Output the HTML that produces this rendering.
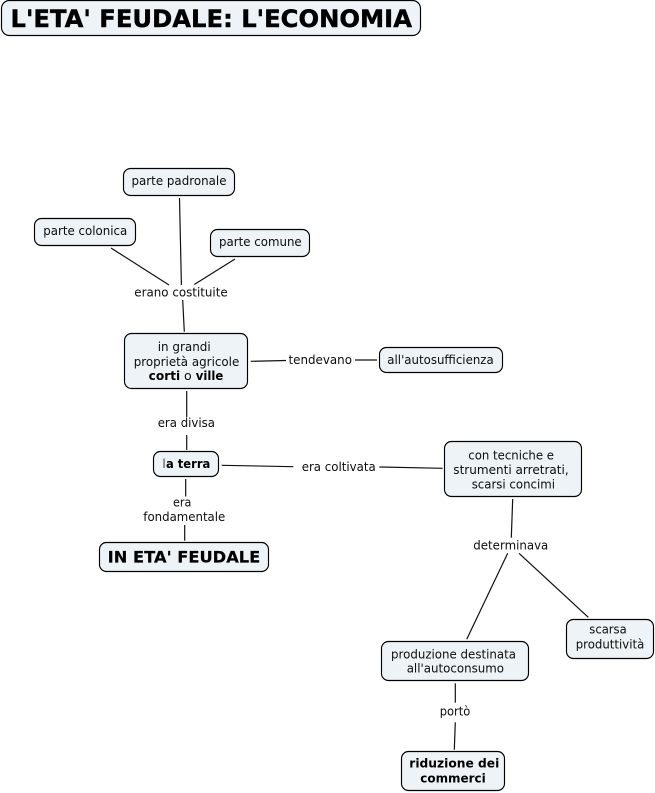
<!DOCTYPE html>
<html><head><meta charset="utf-8"><style>
html,body{margin:0;padding:0;background:#fff;width:655px;height:793px;overflow:hidden}
svg{display:block}
rect{fill:#edf3f6;stroke:#000;stroke-width:1.15}
line{stroke:#111;stroke-width:1.2}
text{font-family:"DejaVu Sans","Liberation Sans",sans-serif;font-size:12px;fill:#0d0d0d}
.b{font-weight:bold;fill:#000}
</style></head><body>
<svg width="655" height="793" viewBox="0 0 655 793" xmlns="http://www.w3.org/2000/svg">
<line x1="179.5" y1="198" x2="181.4" y2="285"/>
<line x1="111" y1="248" x2="169" y2="285"/>
<line x1="235" y1="259" x2="194.3" y2="284.5"/>
<line x1="182.7" y1="300" x2="184.3" y2="331.7"/>
<line x1="250.7" y1="361.3" x2="286" y2="360.5"/>
<line x1="355" y1="360" x2="377" y2="360"/>
<line x1="186.7" y1="391" x2="186.7" y2="417"/>
<line x1="186.7" y1="435" x2="186.7" y2="450"/>
<line x1="185.7" y1="479" x2="185.7" y2="496.5"/>
<line x1="184.7" y1="525" x2="184.7" y2="540.7"/>
<line x1="221.7" y1="465.3" x2="293.3" y2="466.7"/>
<line x1="379.3" y1="467" x2="442.7" y2="468.3"/>
<line x1="512.7" y1="499" x2="511.3" y2="537.7"/>
<line x1="507.7" y1="553.3" x2="466.7" y2="639.3"/>
<line x1="519" y1="553.3" x2="588.3" y2="617.3"/>
<line x1="455.3" y1="683.3" x2="455.3" y2="702.7"/>
<line x1="455.3" y1="722.3" x2="454.3" y2="749.7"/>

<rect x="1.5" y="0.5" width="419" height="35" rx="8"/>
<rect x="123.5" y="168.5" width="111" height="27" rx="7"/>
<rect x="34.5" y="218.5" width="101" height="27" rx="7"/>
<rect x="210.5" y="229.5" width="99" height="27" rx="7"/>
<rect x="124.5" y="333.5" width="123" height="55" rx="7"/>
<rect x="379.5" y="347.5" width="123" height="25" rx="7"/>
<rect x="153.5" y="451.5" width="65" height="25" rx="7"/>
<rect x="99.5" y="542.5" width="169" height="29" rx="7"/>
<rect x="444.5" y="441.5" width="137" height="55" rx="7"/>
<rect x="566.5" y="619.5" width="87" height="39" rx="7"/>
<rect x="381.5" y="641.5" width="147" height="39" rx="7"/>
<rect x="401.5" y="751.5" width="103" height="39" rx="7"/>

<text class="b" x="10.5" y="27" style="font-size:24px;stroke:#000;stroke-width:.4" textLength="401.5" lengthAdjust="spacingAndGlyphs">L'ETA' FEUDALE: L'ECONOMIA</text>
<text x="131.5" y="185" textLength="95" lengthAdjust="spacingAndGlyphs">parte padronale</text>
<text x="43.3" y="235" textLength="84" lengthAdjust="spacingAndGlyphs">parte colonica</text>
<text x="219" y="246" textLength="82.7" lengthAdjust="spacingAndGlyphs">parte comune</text>
<text x="134.3" y="296.5" textLength="93.4" lengthAdjust="spacingAndGlyphs">erano costituite</text>
<text x="157.7" y="351" textLength="53" lengthAdjust="spacingAndGlyphs">in grandi</text>
<text x="133.7" y="366" textLength="105.6" lengthAdjust="spacingAndGlyphs">proprietà agricole</text>
<text class="b" x="148.7" y="380" textLength="31.5" lengthAdjust="spacingAndGlyphs">corti</text>
<text x="184" y="380" textLength="7.7" lengthAdjust="spacingAndGlyphs">o</text>
<text class="b" x="195.7" y="380" textLength="27.6" lengthAdjust="spacingAndGlyphs">ville</text>
<text x="288.5" y="364" textLength="63.5" lengthAdjust="spacingAndGlyphs">tendevano</text>
<text x="387.3" y="364" textLength="106.4" lengthAdjust="spacingAndGlyphs">all'autosufficienza</text>
<text x="157.7" y="427" textLength="57.3" lengthAdjust="spacingAndGlyphs">era divisa</text>
<text x="162.7" y="468" textLength="2.6" lengthAdjust="spacingAndGlyphs">l</text>
<text class="b" x="166" y="468" textLength="44.3" lengthAdjust="spacingAndGlyphs">a terra</text>
<text x="301.7" y="471" textLength="74" lengthAdjust="spacingAndGlyphs">era coltivata</text>
<text x="173" y="506.5" textLength="18.3" lengthAdjust="spacingAndGlyphs">era</text>
<text x="143.3" y="521" textLength="82" lengthAdjust="spacingAndGlyphs">fondamentale</text>
<text class="b" x="107.7" y="562.5" style="font-size:16px;stroke:#000;stroke-width:.2" textLength="152.6" lengthAdjust="spacingAndGlyphs">IN ETA' FEUDALE</text>
<text x="468.3" y="459.3" textLength="85.7" lengthAdjust="spacingAndGlyphs">con tecniche e</text>
<text x="453.3" y="474" textLength="115.4" lengthAdjust="spacingAndGlyphs">strumenti arretrati,</text>
<text x="471.7" y="488.3" textLength="83.3" lengthAdjust="spacingAndGlyphs">scarsi concimi</text>
<text x="473.3" y="549.3" textLength="75" lengthAdjust="spacingAndGlyphs">determinava</text>
<text x="589.3" y="633.3" textLength="37.4" lengthAdjust="spacingAndGlyphs">scarsa</text>
<text x="575.7" y="648.3" textLength="68.6" lengthAdjust="spacingAndGlyphs">produttività</text>
<text x="391" y="658.3" textLength="125" lengthAdjust="spacingAndGlyphs">produzione destinata</text>
<text x="406.7" y="672.7" textLength="97.3" lengthAdjust="spacingAndGlyphs">all'autoconsumo</text>
<text x="439.7" y="715.7" textLength="30.6" lengthAdjust="spacingAndGlyphs">portò</text>
<text class="b" x="409.3" y="767.7" textLength="90" lengthAdjust="spacingAndGlyphs">riduzione dei</text>
<text class="b" x="420.3" y="782.3" textLength="65.4" lengthAdjust="spacingAndGlyphs">commerci</text>
</svg>
</body></html>
